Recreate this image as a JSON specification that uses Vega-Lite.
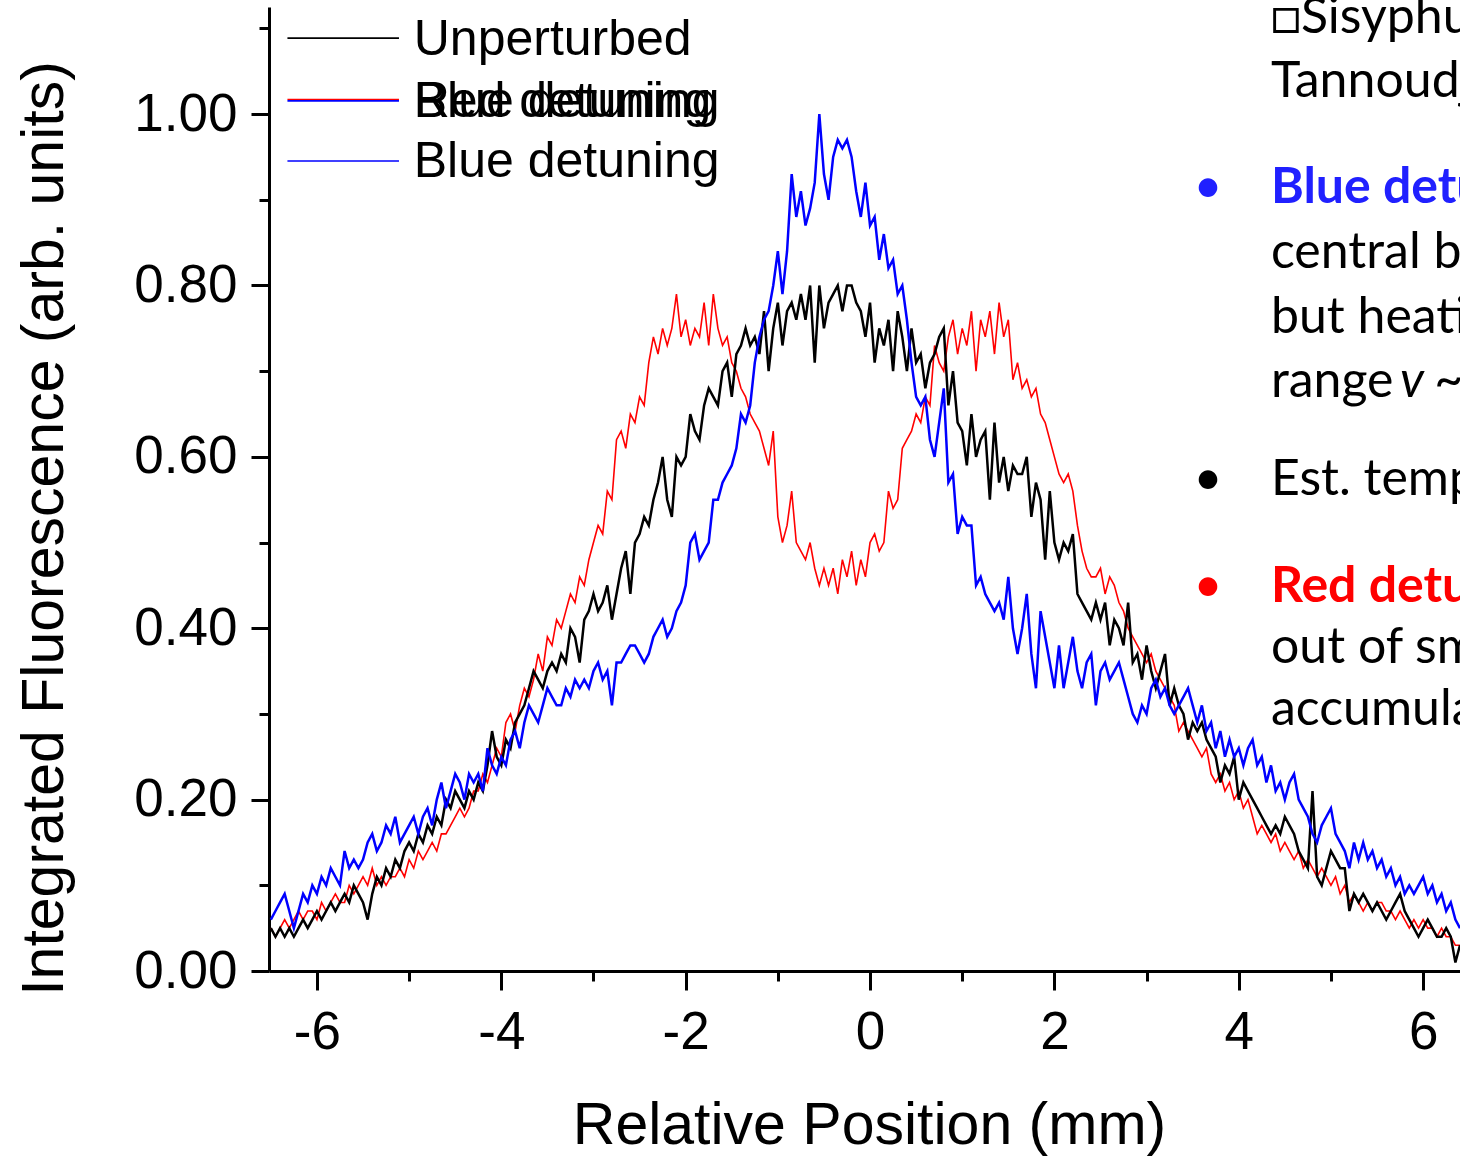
{
"$schema": "https://vega.github.io/schema/vega-lite/v6.json",
"width": 1191, "height": 964,
"autosize": {"type": "none"},
"padding": {"left": 269, "top": 7, "right": 0, "bottom": 186},
"background": "white",
"config": {"view": {"stroke": null}, "font": "Liberation Sans",
  "axis": {"domainColor": "black", "domainWidth": 3, "tickColor": "black", "tickWidth": 3, "labelColor": "black", "titleColor": "black", "labelFont": "Liberation Sans", "titleFont": "Liberation Sans", "titleFontWeight": "normal", "grid": false, "labelFontSize": 53, "titleFontSize": 59, "labelOverlap": false, "labelFlush": false}},
"layer": [
{
"data": {"values": [
{"x":-6.50,"u":0.05,"r":0.05,"b":0.06},{"x":-6.45,"u":0.04,"r":0.04,"b":0.07},{"x":-6.40,"u":0.05,"r":0.05,"b":0.08},{"x":-6.35,"u":0.04,"r":0.06,"b":0.09},{"x":-6.30,"u":0.05,"r":0.05,"b":0.07},{"x":-6.25,"u":0.04,"r":0.06,"b":0.05},{"x":-6.20,"u":0.05,"r":0.07,"b":0.07},{"x":-6.15,"u":0.06,"r":0.06,"b":0.09},{"x":-6.10,"u":0.05,"r":0.07,"b":0.08},{"x":-6.05,"u":0.06,"r":0.07,"b":0.10},
{"x":-6.00,"u":0.07,"r":0.06,"b":0.09},{"x":-5.95,"u":0.06,"r":0.08,"b":0.11},{"x":-5.90,"u":0.07,"r":0.07,"b":0.10},{"x":-5.85,"u":0.08,"r":0.08,"b":0.12},{"x":-5.80,"u":0.07,"r":0.09,"b":0.11},{"x":-5.75,"u":0.08,"r":0.08,"b":0.10},{"x":-5.70,"u":0.09,"r":0.08,"b":0.14},{"x":-5.65,"u":0.08,"r":0.10,"b":0.12},{"x":-5.60,"u":0.10,"r":0.09,"b":0.13},{"x":-5.55,"u":0.09,"r":0.10,"b":0.12},
{"x":-5.50,"u":0.08,"r":0.11,"b":0.13},{"x":-5.45,"u":0.06,"r":0.10,"b":0.15},{"x":-5.40,"u":0.09,"r":0.12,"b":0.16},{"x":-5.35,"u":0.11,"r":0.10,"b":0.14},{"x":-5.30,"u":0.10,"r":0.11,"b":0.15},{"x":-5.25,"u":0.12,"r":0.10,"b":0.17},{"x":-5.20,"u":0.11,"r":0.11,"b":0.16},{"x":-5.15,"u":0.13,"r":0.11,"b":0.18},{"x":-5.10,"u":0.12,"r":0.12,"b":0.15},{"x":-5.05,"u":0.14,"r":0.11,"b":0.16},
{"x":-5.00,"u":0.15,"r":0.13,"b":0.17},{"x":-4.95,"u":0.14,"r":0.12,"b":0.18},{"x":-4.90,"u":0.16,"r":0.14,"b":0.16},{"x":-4.85,"u":0.15,"r":0.13,"b":0.18},{"x":-4.80,"u":0.17,"r":0.14,"b":0.19},{"x":-4.75,"u":0.16,"r":0.15,"b":0.17},{"x":-4.70,"u":0.18,"r":0.14,"b":0.20},{"x":-4.65,"u":0.17,"r":0.16,"b":0.22},{"x":-4.60,"u":0.20,"r":0.16,"b":0.19},{"x":-4.55,"u":0.19,"r":0.17,"b":0.21},
{"x":-4.50,"u":0.21,"r":0.18,"b":0.23},{"x":-4.45,"u":0.20,"r":0.19,"b":0.22},{"x":-4.40,"u":0.19,"r":0.18,"b":0.20},{"x":-4.35,"u":0.21,"r":0.19,"b":0.23},{"x":-4.30,"u":0.20,"r":0.21,"b":0.22},{"x":-4.25,"u":0.22,"r":0.21,"b":0.23},{"x":-4.20,"u":0.21,"r":0.23,"b":0.21},{"x":-4.15,"u":0.24,"r":0.22,"b":0.26},{"x":-4.10,"u":0.28,"r":0.24,"b":0.24},{"x":-4.05,"u":0.25,"r":0.26,"b":0.23},
{"x":-4.00,"u":0.24,"r":0.25,"b":0.25},{"x":-3.95,"u":0.27,"r":0.29,"b":0.24},{"x":-3.90,"u":0.26,"r":0.30,"b":0.27},{"x":-3.85,"u":0.29,"r":0.28,"b":0.28},{"x":-3.80,"u":0.30,"r":0.31,"b":0.26},{"x":-3.75,"u":0.31,"r":0.33,"b":0.29},{"x":-3.70,"u":0.33,"r":0.32,"b":0.31},{"x":-3.65,"u":0.35,"r":0.34,"b":0.30},{"x":-3.60,"u":0.34,"r":0.37,"b":0.29},{"x":-3.55,"u":0.33,"r":0.35,"b":0.31},
{"x":-3.50,"u":0.35,"r":0.39,"b":0.33},{"x":-3.45,"u":0.36,"r":0.38,"b":0.32},{"x":-3.40,"u":0.35,"r":0.41,"b":0.31},{"x":-3.35,"u":0.37,"r":0.40,"b":0.31},{"x":-3.30,"u":0.36,"r":0.42,"b":0.33},{"x":-3.25,"u":0.40,"r":0.44,"b":0.32},{"x":-3.20,"u":0.39,"r":0.43,"b":0.34},{"x":-3.15,"u":0.36,"r":0.46,"b":0.33},{"x":-3.10,"u":0.41,"r":0.45,"b":0.34},{"x":-3.05,"u":0.42,"r":0.48,"b":0.33},
{"x":-3.00,"u":0.44,"r":0.50,"b":0.35},{"x":-2.95,"u":0.42,"r":0.52,"b":0.36},{"x":-2.90,"u":0.43,"r":0.51,"b":0.34},{"x":-2.85,"u":0.45,"r":0.56,"b":0.35},{"x":-2.80,"u":0.41,"r":0.55,"b":0.31},{"x":-2.75,"u":0.44,"r":0.62,"b":0.36},{"x":-2.70,"u":0.47,"r":0.63,"b":0.36},{"x":-2.65,"u":0.49,"r":0.61,"b":0.37},{"x":-2.60,"u":0.44,"r":0.65,"b":0.38},{"x":-2.55,"u":0.50,"r":0.64,"b":0.38},
{"x":-2.50,"u":0.51,"r":0.67,"b":0.37},{"x":-2.45,"u":0.53,"r":0.66,"b":0.36},{"x":-2.40,"u":0.52,"r":0.71,"b":0.37},{"x":-2.35,"u":0.55,"r":0.74,"b":0.39},{"x":-2.30,"u":0.57,"r":0.72,"b":0.40},{"x":-2.25,"u":0.60,"r":0.75,"b":0.41},{"x":-2.20,"u":0.55,"r":0.73,"b":0.39},{"x":-2.15,"u":0.53,"r":0.75,"b":0.40},{"x":-2.10,"u":0.60,"r":0.79,"b":0.42},{"x":-2.05,"u":0.59,"r":0.74,"b":0.43},
{"x":-2.00,"u":0.60,"r":0.76,"b":0.45},{"x":-1.95,"u":0.65,"r":0.73,"b":0.50},{"x":-1.90,"u":0.63,"r":0.75,"b":0.51},{"x":-1.85,"u":0.62,"r":0.74,"b":0.48},{"x":-1.80,"u":0.66,"r":0.78,"b":0.49},{"x":-1.75,"u":0.68,"r":0.73,"b":0.50},{"x":-1.70,"u":0.67,"r":0.79,"b":0.55},{"x":-1.65,"u":0.66,"r":0.75,"b":0.55},{"x":-1.60,"u":0.70,"r":0.73,"b":0.57},{"x":-1.55,"u":0.71,"r":0.74,"b":0.58},
{"x":-1.50,"u":0.67,"r":0.71,"b":0.59},{"x":-1.45,"u":0.72,"r":0.70,"b":0.61},{"x":-1.40,"u":0.73,"r":0.68,"b":0.65},{"x":-1.35,"u":0.75,"r":0.67,"b":0.64},{"x":-1.30,"u":0.73,"r":0.65,"b":0.66},{"x":-1.25,"u":0.74,"r":0.64,"b":0.71},{"x":-1.20,"u":0.72,"r":0.63,"b":0.74},{"x":-1.15,"u":0.77,"r":0.61,"b":0.76},{"x":-1.10,"u":0.70,"r":0.59,"b":0.77},{"x":-1.05,"u":0.75,"r":0.63,"b":0.80},
{"x":-1.00,"u":0.78,"r":0.53,"b":0.84},{"x":-0.95,"u":0.73,"r":0.50,"b":0.79},{"x":-0.90,"u":0.77,"r":0.52,"b":0.84},{"x":-0.85,"u":0.78,"r":0.56,"b":0.93},{"x":-0.80,"u":0.76,"r":0.50,"b":0.88},{"x":-0.75,"u":0.79,"r":0.49,"b":0.91},{"x":-0.70,"u":0.76,"r":0.48,"b":0.87},{"x":-0.65,"u":0.80,"r":0.50,"b":0.89},{"x":-0.60,"u":0.71,"r":0.47,"b":0.92},{"x":-0.55,"u":0.80,"r":0.45,"b":1.00},
{"x":-0.50,"u":0.75,"r":0.47,"b":0.93},{"x":-0.45,"u":0.78,"r":0.45,"b":0.90},{"x":-0.40,"u":0.79,"r":0.47,"b":0.95},{"x":-0.35,"u":0.80,"r":0.44,"b":0.97},{"x":-0.30,"u":0.77,"r":0.48,"b":0.96},{"x":-0.25,"u":0.80,"r":0.46,"b":0.97},{"x":-0.20,"u":0.80,"r":0.49,"b":0.95},{"x":-0.15,"u":0.78,"r":0.45,"b":0.91},{"x":-0.10,"u":0.77,"r":0.48,"b":0.88},{"x":-0.05,"u":0.74,"r":0.46,"b":0.92},
{"x":0.00,"u":0.78,"r":0.50,"b":0.87},{"x":0.05,"u":0.71,"r":0.51,"b":0.88},{"x":0.10,"u":0.75,"r":0.49,"b":0.83},{"x":0.15,"u":0.73,"r":0.50,"b":0.86},{"x":0.20,"u":0.76,"r":0.56,"b":0.82},{"x":0.25,"u":0.70,"r":0.54,"b":0.83},{"x":0.30,"u":0.77,"r":0.55,"b":0.79},{"x":0.35,"u":0.74,"r":0.61,"b":0.80},{"x":0.40,"u":0.70,"r":0.62,"b":0.76},{"x":0.45,"u":0.75,"r":0.63,"b":0.71},
{"x":0.50,"u":0.71,"r":0.65,"b":0.67},{"x":0.55,"u":0.72,"r":0.64,"b":0.66},{"x":0.60,"u":0.68,"r":0.67,"b":0.67},{"x":0.65,"u":0.71,"r":0.66,"b":0.62},{"x":0.70,"u":0.72,"r":0.73,"b":0.60},{"x":0.75,"u":0.74,"r":0.71,"b":0.64},{"x":0.80,"u":0.75,"r":0.70,"b":0.68},{"x":0.85,"u":0.66,"r":0.74,"b":0.57},{"x":0.90,"u":0.70,"r":0.76,"b":0.58},{"x":0.95,"u":0.64,"r":0.72,"b":0.51},
{"x":1.00,"u":0.63,"r":0.75,"b":0.53},{"x":1.05,"u":0.59,"r":0.73,"b":0.52},{"x":1.10,"u":0.65,"r":0.77,"b":0.52},{"x":1.15,"u":0.60,"r":0.70,"b":0.45},{"x":1.20,"u":0.62,"r":0.76,"b":0.46},{"x":1.25,"u":0.63,"r":0.74,"b":0.44},{"x":1.30,"u":0.55,"r":0.77,"b":0.43},{"x":1.35,"u":0.64,"r":0.72,"b":0.42},{"x":1.40,"u":0.57,"r":0.78,"b":0.43},{"x":1.45,"u":0.60,"r":0.74,"b":0.41},
{"x":1.50,"u":0.56,"r":0.76,"b":0.46},{"x":1.55,"u":0.59,"r":0.69,"b":0.40},{"x":1.60,"u":0.58,"r":0.71,"b":0.37},{"x":1.65,"u":0.58,"r":0.68,"b":0.40},{"x":1.70,"u":0.60,"r":0.69,"b":0.44},{"x":1.75,"u":0.53,"r":0.67,"b":0.37},{"x":1.80,"u":0.57,"r":0.68,"b":0.33},{"x":1.85,"u":0.55,"r":0.65,"b":0.42},{"x":1.90,"u":0.48,"r":0.64,"b":0.39},{"x":1.95,"u":0.56,"r":0.62,"b":0.36},
{"x":2.00,"u":0.50,"r":0.60,"b":0.33},{"x":2.05,"u":0.48,"r":0.58,"b":0.38},{"x":2.10,"u":0.50,"r":0.57,"b":0.33},{"x":2.15,"u":0.49,"r":0.58,"b":0.36},{"x":2.20,"u":0.51,"r":0.56,"b":0.39},{"x":2.25,"u":0.44,"r":0.52,"b":0.35},{"x":2.30,"u":0.43,"r":0.49,"b":0.33},{"x":2.35,"u":0.42,"r":0.47,"b":0.36},{"x":2.40,"u":0.41,"r":0.46,"b":0.37},{"x":2.45,"u":0.43,"r":0.46,"b":0.31},
{"x":2.50,"u":0.41,"r":0.47,"b":0.35},{"x":2.55,"u":0.43,"r":0.44,"b":0.36},{"x":2.60,"u":0.38,"r":0.46,"b":0.34},{"x":2.65,"u":0.41,"r":0.45,"b":0.35},{"x":2.70,"u":0.40,"r":0.43,"b":0.36},{"x":2.75,"u":0.38,"r":0.42,"b":0.34},{"x":2.80,"u":0.43,"r":0.40,"b":0.32},{"x":2.85,"u":0.36,"r":0.39,"b":0.30},{"x":2.90,"u":0.37,"r":0.38,"b":0.29},{"x":2.95,"u":0.34,"r":0.37,"b":0.31},
{"x":3.00,"u":0.38,"r":0.36,"b":0.30},{"x":3.05,"u":0.35,"r":0.37,"b":0.33},{"x":3.10,"u":0.33,"r":0.35,"b":0.34},{"x":3.15,"u":0.35,"r":0.34,"b":0.32},{"x":3.20,"u":0.37,"r":0.33,"b":0.33},{"x":3.25,"u":0.31,"r":0.32,"b":0.31},{"x":3.30,"u":0.33,"r":0.31,"b":0.30},{"x":3.35,"u":0.31,"r":0.28,"b":0.31},{"x":3.40,"u":0.30,"r":0.29,"b":0.32},{"x":3.45,"u":0.27,"r":0.28,"b":0.33},
{"x":3.50,"u":0.29,"r":0.27,"b":0.31},{"x":3.55,"u":0.28,"r":0.26,"b":0.29},{"x":3.60,"u":0.29,"r":0.25,"b":0.31},{"x":3.65,"u":0.27,"r":0.26,"b":0.28},{"x":3.70,"u":0.26,"r":0.23,"b":0.29},{"x":3.75,"u":0.25,"r":0.22,"b":0.26},{"x":3.80,"u":0.22,"r":0.23,"b":0.28},{"x":3.85,"u":0.24,"r":0.21,"b":0.25},{"x":3.90,"u":0.23,"r":0.22,"b":0.27},{"x":3.95,"u":0.25,"r":0.20,"b":0.25},
{"x":4.00,"u":0.20,"r":0.21,"b":0.26},{"x":4.05,"u":0.22,"r":0.19,"b":0.24},{"x":4.10,"u":0.21,"r":0.20,"b":0.26},{"x":4.15,"u":0.20,"r":0.18,"b":0.27},{"x":4.20,"u":0.19,"r":0.16,"b":0.24},{"x":4.25,"u":0.18,"r":0.17,"b":0.25},{"x":4.30,"u":0.17,"r":0.16,"b":0.22},{"x":4.35,"u":0.16,"r":0.15,"b":0.24},{"x":4.40,"u":0.17,"r":0.16,"b":0.21},{"x":4.45,"u":0.16,"r":0.14,"b":0.22},
{"x":4.50,"u":0.18,"r":0.15,"b":0.20},{"x":4.55,"u":0.17,"r":0.14,"b":0.22},{"x":4.60,"u":0.16,"r":0.13,"b":0.23},{"x":4.65,"u":0.14,"r":0.14,"b":0.20},{"x":4.70,"u":0.13,"r":0.12,"b":0.19},{"x":4.75,"u":0.12,"r":0.13,"b":0.18},{"x":4.80,"u":0.21,"r":0.12,"b":0.16},{"x":4.85,"u":0.11,"r":0.11,"b":0.15},{"x":4.90,"u":0.10,"r":0.12,"b":0.17},{"x":4.95,"u":0.12,"r":0.11,"b":0.18},
{"x":5.00,"u":0.14,"r":0.10,"b":0.19},{"x":5.05,"u":0.13,"r":0.11,"b":0.16},{"x":5.10,"u":0.12,"r":0.09,"b":0.15},{"x":5.15,"u":0.12,"r":0.10,"b":0.14},{"x":5.20,"u":0.07,"r":0.08,"b":0.12},{"x":5.25,"u":0.09,"r":0.09,"b":0.15},{"x":5.30,"u":0.08,"r":0.08,"b":0.13},{"x":5.35,"u":0.09,"r":0.07,"b":0.15},{"x":5.40,"u":0.08,"r":0.08,"b":0.13},{"x":5.45,"u":0.07,"r":0.07,"b":0.14},
{"x":5.50,"u":0.08,"r":0.08,"b":0.12},{"x":5.55,"u":0.07,"r":0.08,"b":0.13},{"x":5.60,"u":0.06,"r":0.07,"b":0.11},{"x":5.65,"u":0.07,"r":0.07,"b":0.12},{"x":5.70,"u":0.08,"r":0.06,"b":0.10},{"x":5.75,"u":0.09,"r":0.07,"b":0.11},{"x":5.80,"u":0.07,"r":0.06,"b":0.09},{"x":5.85,"u":0.06,"r":0.05,"b":0.10},{"x":5.90,"u":0.05,"r":0.06,"b":0.09},{"x":5.95,"u":0.04,"r":0.05,"b":0.10},
{"x":6.00,"u":0.05,"r":0.06,"b":0.11},{"x":6.05,"u":0.06,"r":0.05,"b":0.09},{"x":6.10,"u":0.05,"r":0.05,"b":0.10},{"x":6.15,"u":0.04,"r":0.04,"b":0.08},{"x":6.20,"u":0.04,"r":0.05,"b":0.09},{"x":6.25,"u":0.05,"r":0.04,"b":0.07},{"x":6.30,"u":0.04,"r":0.04,"b":0.08},{"x":6.35,"u":0.01,"r":0.03,"b":0.06},{"x":6.40,"u":0.03,"r":0.03,"b":0.05}
]},
"transform": [{"fold": ["r", "u", "b"], "as": ["s", "v"]}],
"mark": {"type": "line", "clip": true},
"encoding": {
  "x": {"field": "x", "type": "quantitative",
    "scale": {"domain": [-6.52, 6.4], "nice": false, "zero": false},
    "axis": {"title": "Relative Position (mm)", "values": [-6,-5,-4,-3,-2,-1,0,1,2,3,4,5,6],
      "labelExpr": "datum.value % 2 === 0 ? '' + datum.value : ''",
      "tickSize": {"condition": {"test": "datum.value % 2 === 0", "value": 19}, "value": 10},
      "labelPadding": 16, "titleX": 600, "titleY": 172, "titleBaseline": "alphabetic", "titleAnchor": "middle"}},
  "y": {"field": "v", "type": "quantitative",
    "scale": {"domain": [0, 1.125], "nice": false, "zero": false},
    "axis": {"title": "Integrated Fluorescence (arb. units)", "values": [0,0.1,0.2,0.3,0.4,0.5,0.6,0.7,0.8,0.9,1.0,1.1],
      "format": ".2f",
      "labelExpr": "round(datum.value*10) % 2 === 0 ? datum.label : ''",
      "tickSize": {"condition": {"test": "round(datum.value*10) % 2 === 0", "value": 18}, "value": 10},
      "labelPadding": 14, "titleX": -225, "titleY": 521, "titleBaseline": "middle", "titleAngle": -90}},
  "color": {"field": "s", "type": "nominal", "scale": {"domain": ["r", "u", "b"], "range": ["#FF0000", "#000000", "#0000FF"]}, "legend": null},
  "strokeWidth": {"condition": {"test": "datum.s === 'r'", "value": 1.6}, "value": 2.5}
}
},
{"data": {"values": [{}]}, "mark": {"type": "rule", "color": "#000000", "strokeWidth": 1.6},
 "encoding": {"x": {"datum": -6.32}, "x2": {"datum": -5.11}, "y": {"datum": 1.0887}}},
{"data": {"values": [{}]}, "mark": {"type": "rule", "color": "#0000FF", "strokeWidth": 1.6},
 "encoding": {"x": {"datum": -6.32}, "x2": {"datum": -5.11}, "y": {"datum": 1.0155}}},
{"data": {"values": [{}]}, "mark": {"type": "rule", "color": "#FF0000", "strokeWidth": 1.2},
 "encoding": {"x": {"datum": -6.32}, "x2": {"datum": -5.11}, "y": {"datum": 1.0172}}},
{"data": {"values": [{}]}, "mark": {"type": "rule", "color": "#0000FF", "strokeWidth": 1.6},
 "encoding": {"x": {"datum": -6.32}, "x2": {"datum": -5.11}, "y": {"datum": 0.9452}}},
{"data": {"values": [{}]}, "mark": {"type": "text", "align": "left", "baseline": "alphabetic", "font": "Liberation Sans", "fontSize": 50, "color": "#000000"},
 "encoding": {"x": {"datum": -4.95}, "y": {"datum": 1.0689}, "text": {"value": "Unperturbed"}}},
{"data": {"values": [{}]}, "mark": {"type": "text", "align": "left", "baseline": "alphabetic", "font": "Liberation Sans", "fontSize": 50, "color": "#000000"},
 "encoding": {"x": {"datum": -4.95}, "y": {"datum": 0.9965}, "text": {"value": "Red detuning"}}},
{"data": {"values": [{}]}, "mark": {"type": "text", "align": "left", "baseline": "alphabetic", "font": "Liberation Sans", "fontSize": 50, "color": "#000000"},
 "encoding": {"x": {"datum": -4.95}, "y": {"datum": 0.9965}, "text": {"value": "Blue detuning"}}},
{"data": {"values": [{}]}, "mark": {"type": "text", "align": "left", "baseline": "alphabetic", "font": "Liberation Sans", "fontSize": 50, "color": "#000000"},
 "encoding": {"x": {"datum": -4.95}, "y": {"datum": 0.9265}, "text": {"value": "Blue detuning"}}},
{"data": {"values": [{}]}, "mark": {"type": "text", "align": "left", "baseline": "alphabetic", "font": "Lato", "fontSize": 50, "color": "#000000", "lineHeight": 64},
 "encoding": {"x": {"datum": 4.349}, "y": {"datum": 1.0945}, "text": {"value": ["□Sisyphus cooling [Dalibard & Cohen-", "Tannoudji 1989]"]}}},
{"data": {"values": [{}]}, "mark": {"type": "text", "align": "center", "baseline": "alphabetic", "font": "Lato", "fontSize": 50, "color": "#2020FF"},
 "encoding": {"x": {"datum": 3.666}, "y": {"datum": 0.896}, "text": {"value": "•"}}},
{"data": {"values": [{}]}, "mark": {"type": "text", "align": "left", "baseline": "alphabetic", "font": "Lato", "fontSize": 50, "fontWeight": "bold", "color": "#2020FF"},
 "encoding": {"x": {"datum": 4.349}, "y": {"datum": 0.896}, "text": {"value": "Blue detuning: cooling"}}},
{"data": {"values": [{}]}, "mark": {"type": "text", "align": "left", "baseline": "alphabetic", "font": "Lato", "fontSize": 50, "color": "#000000", "lineHeight": 64.5},
 "encoding": {"x": {"datum": 4.349}, "y": {"datum": 0.820}, "text": {"value": ["central beam density increases,", "but heating over the velocity", "range"]}}},
{"data": {"values": [{}]}, "mark": {"type": "text", "align": "left", "baseline": "alphabetic", "font": "Lato", "fontSize": 50, "fontStyle": "italic", "color": "#000000"},
 "encoding": {"x": {"datum": 5.75}, "y": {"datum": 0.670}, "text": {"value": "v"}}},
{"data": {"values": [{}]}, "mark": {"type": "text", "align": "left", "baseline": "alphabetic", "font": "Lato", "fontSize": 50, "color": "#000000"},
 "encoding": {"x": {"datum": 6.12}, "y": {"datum": 0.670}, "text": {"value": "~ 1 m/s"}}},
{"data": {"values": [{}]}, "mark": {"type": "text", "align": "center", "baseline": "alphabetic", "font": "Lato", "fontSize": 50, "color": "#000000"},
 "encoding": {"x": {"datum": 3.666}, "y": {"datum": 0.5554}, "text": {"value": "•"}}},
{"data": {"values": [{}]}, "mark": {"type": "text", "align": "left", "baseline": "alphabetic", "font": "Lato", "fontSize": 50, "color": "#000000"},
 "encoding": {"x": {"datum": 4.349}, "y": {"datum": 0.5554}, "text": {"value": "Est. temperature"}}},
{"data": {"values": [{}]}, "mark": {"type": "text", "align": "center", "baseline": "alphabetic", "font": "Lato", "fontSize": 50, "color": "#FF0000"},
 "encoding": {"x": {"datum": 3.666}, "y": {"datum": 0.4306}, "text": {"value": "•"}}},
{"data": {"values": [{}]}, "mark": {"type": "text", "align": "left", "baseline": "alphabetic", "font": "Lato", "fontSize": 50, "fontWeight": "bold", "color": "#FF0000"},
 "encoding": {"x": {"datum": 4.349}, "y": {"datum": 0.4306}, "text": {"value": "Red detuning: atoms"}}},
{"data": {"values": [{}]}, "mark": {"type": "text", "align": "left", "baseline": "alphabetic", "font": "Lato", "fontSize": 50, "color": "#000000", "lineHeight": 62},
 "encoding": {"x": {"datum": 4.349}, "y": {"datum": 0.3594}, "text": {"value": ["out of small velocities", "accumulate"]}}}
]
}
